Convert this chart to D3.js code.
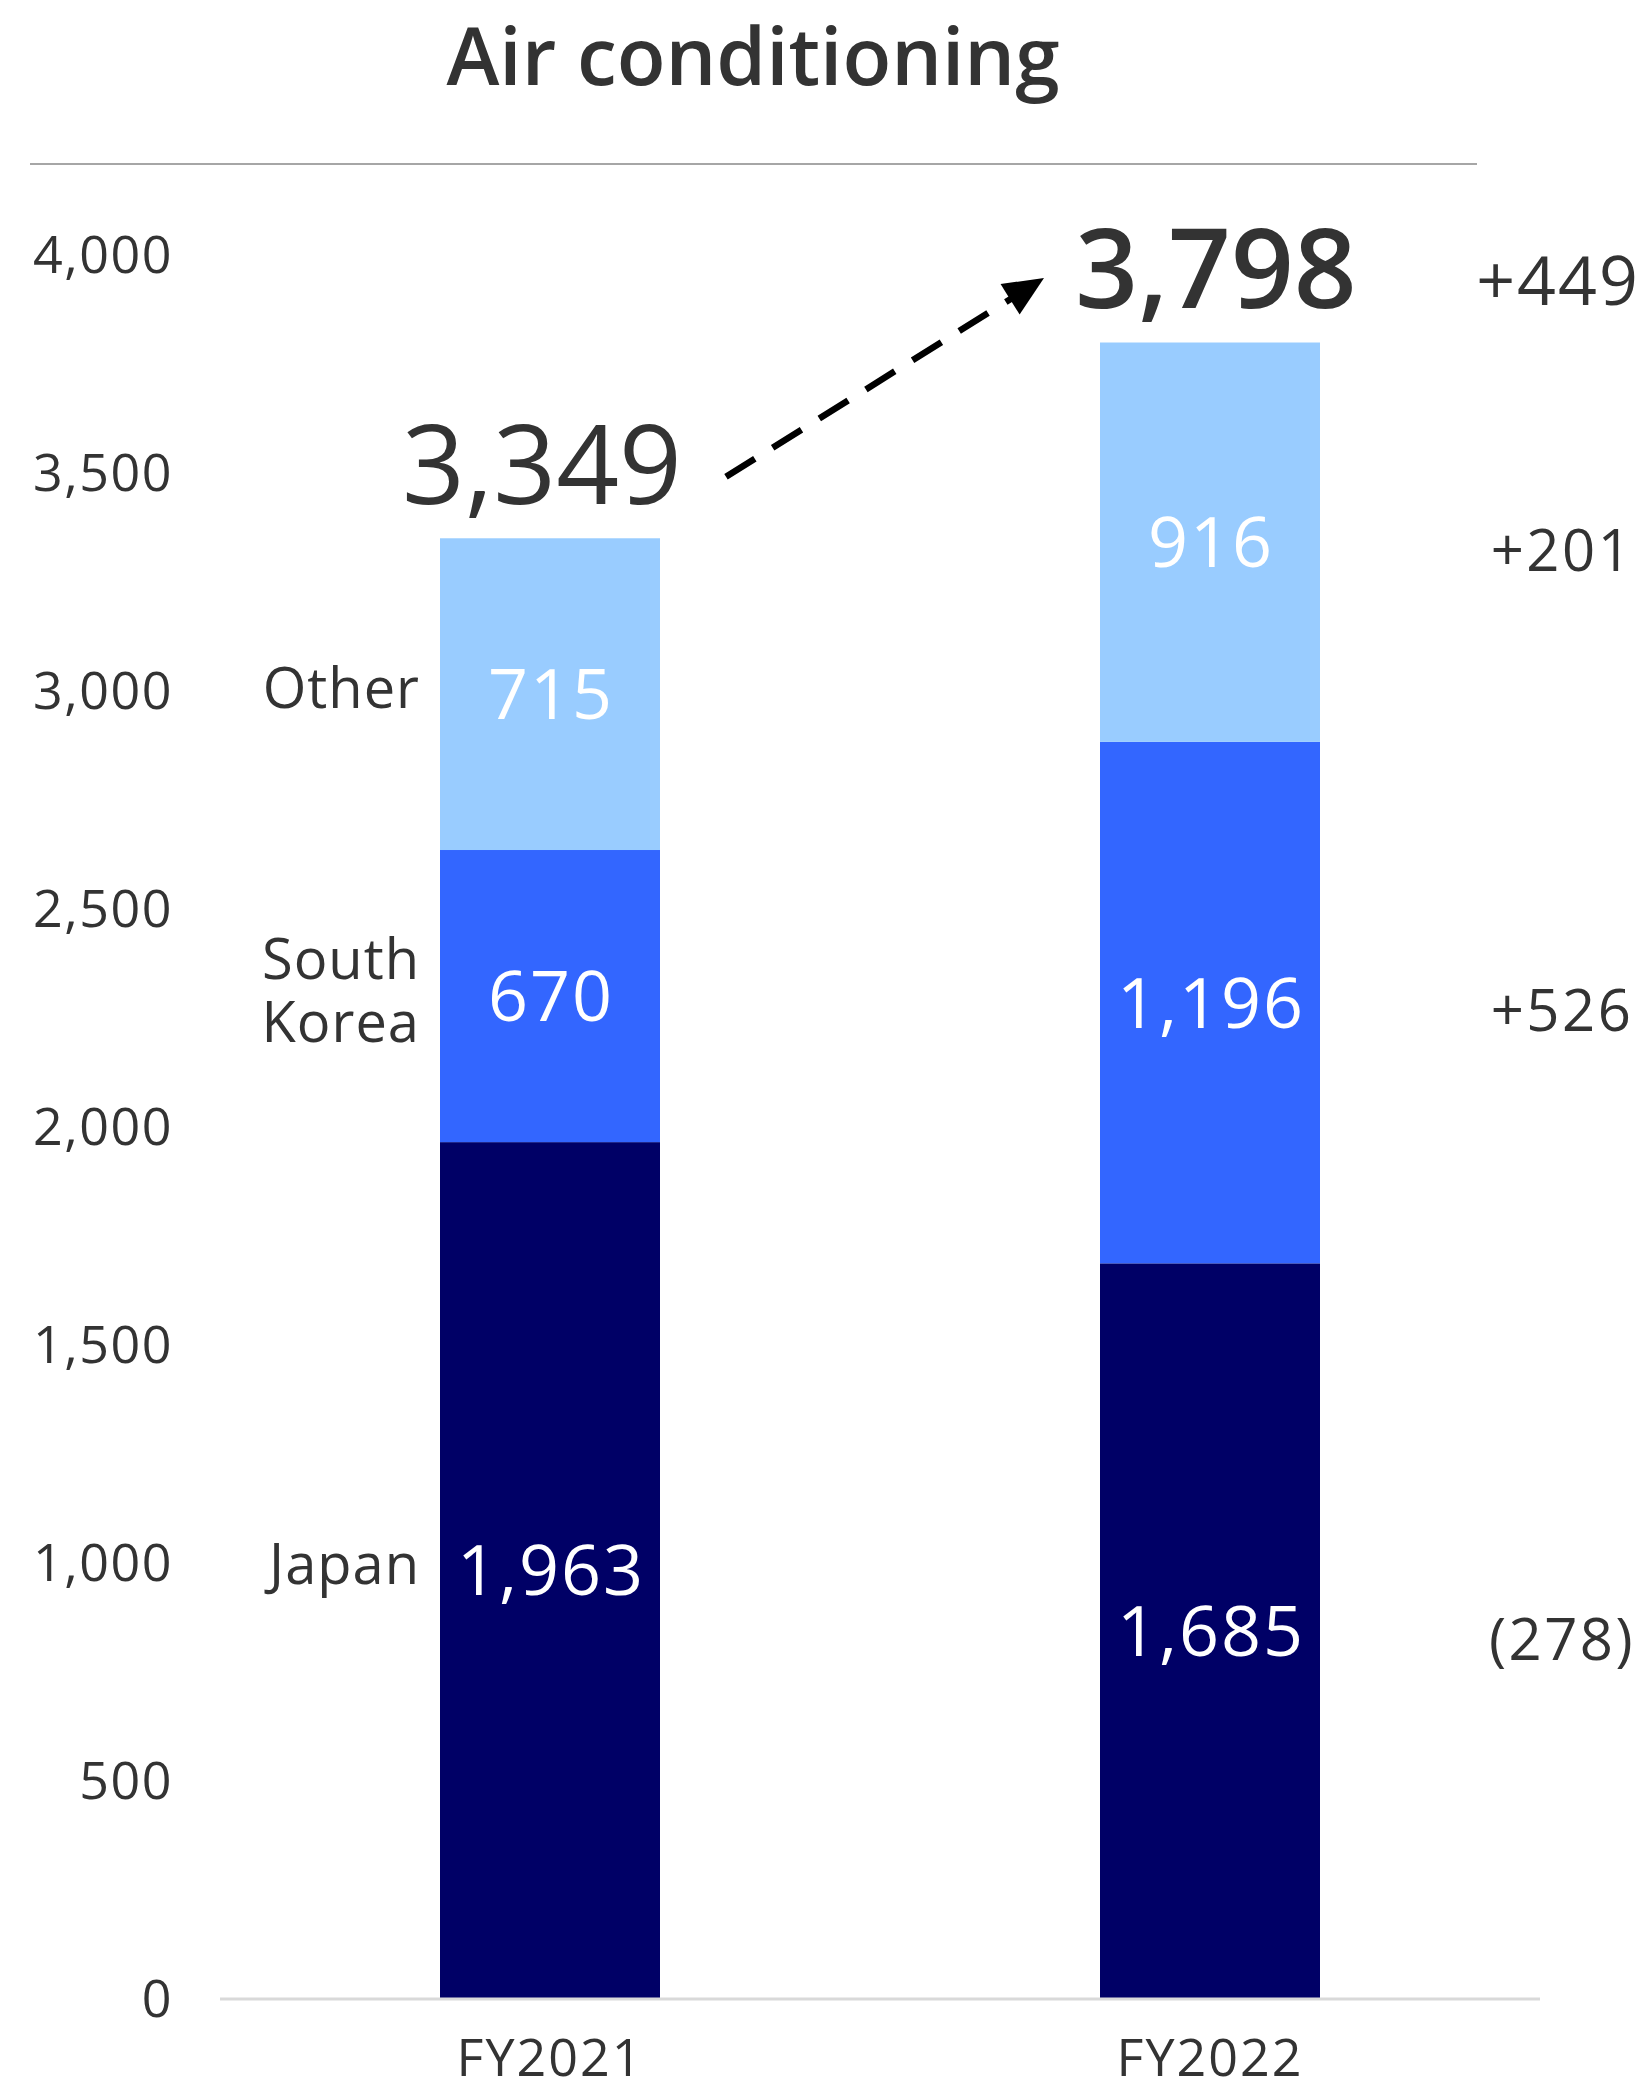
<!DOCTYPE html>
<html>
<head>
<meta charset="utf-8">
<script src="https://cdn.jsdelivr.net/npm/d3@7"></script>
<style>
    body { margin: 0; background: #fff; }
    text { font-family: "Open Sans", "Noto Sans", sans-serif; }
</style>
</head>
<body>
<div id="chart"></div>
<script>
// values
var years = ["FY2021", "FY2022"];
var regions = ["Japan", "South Korea", "Other"];
var japan = [1963, 1685];
var southKorea = [670, 1196];
var other = [715, 916];
var totals = [3349, 3798];
var regionChanges = ["(278)", "+526", "+201"];
var totalChange = "+449";
var yTicks = [0, 500, 1000, 1500, 2000, 2500, 3000, 3500, 4000];

var colors = { "Japan": "#000066", "South Korea": "#3366ff", "Other": "#99ccff" };
var textColor = "#333333";

var width = 1650, height = 2089;

var svg = d3.select("#chart")
    .append("svg")
    .attr("width", width)
    .attr("height", height);

// title + rule
svg.append("text")
    .attr("x", 753)
    .attr("y", 85)
    .attr("text-anchor", "middle")
    .attr("font-size", "80px")
    .attr("font-weight", 600)
    .attr("fill", textColor)
    .text("Air conditioning");

svg.append("line")
    .attr("x1", 30).attr("x2", 1477)
    .attr("y1", 164).attr("y2", 164)
    .attr("stroke", "#a6a6a6")
    .attr("stroke-width", 2);

var x = d3.scaleBand()
    .domain(years)
    .range([220, 1540])
    .paddingInner(2 / 3)
    .paddingOuter(1 / 3);

var y = d3.scaleLinear()
    .domain([0, 4000])
    .range([1998, 254]);

// build rows for the stack
var rows = years.map(function (yr, i) {
    return { year: yr, "Japan": japan[i], "South Korea": southKorea[i], "Other": other[i] };
});
var series = d3.stack().keys(regions)(rows);

// y axis (labels only)
var yAxis = svg.append("g")
    .attr("transform", "translate(182,0)")
    .call(d3.axisLeft(y).tickValues(yTicks).tickSize(0).tickPadding(9).tickFormat(d3.format(",")));
yAxis.select(".domain").remove();
yAxis.selectAll("text")
    .attr("font-size", "52px")
    .attr("letter-spacing", "1.5px")
    .attr("font-family", "'Open Sans', 'Noto Sans', sans-serif")
    .attr("fill", textColor)
    .attr("dy", "0.36em");

// bars
var layer = svg.append("g").selectAll("g")
    .data(series)
    .enter().append("g")
    .attr("fill", function (d) { return colors[d.key]; });

layer.selectAll("rect")
    .data(function (d) { return d; })
    .enter().append("rect")
    .attr("x", function (d) { return x(d.data.year); })
    .attr("width", x.bandwidth())
    .attr("y", function (d) { return y(d[1]); })
    .attr("height", function (d) { return y(d[0]) - y(d[1]); });

// segment values
var fmt = d3.format(",");
series.forEach(function (s) {
    svg.append("g").selectAll("text")
        .data(s)
        .enter().append("text")
        .attr("x", function (d) { return x(d.data.year) + x.bandwidth() / 2 + 1; })
        .attr("y", function (d) { return (y(d[0]) + y(d[1])) / 2; })
        .attr("dy", "0.36em")
        .attr("text-anchor", "middle")
        .attr("font-size", "70px")
        .attr("letter-spacing", "2px")
        .attr("fill", "#ffffff")
        .text(function (d) { return fmt(d.data[s.key]); });
});

// baseline
svg.append("line")
    .attr("x1", x.range()[0]).attr("x2", x.range()[1])
    .attr("y1", y(0) + 1).attr("y2", y(0) + 1)
    .attr("stroke", "#d9d9d9")
    .attr("stroke-width", 3);

// x axis
var xAxis = svg.append("g")
    .attr("transform", "translate(0," + y(0) + ")")
    .call(d3.axisBottom(x).tickSize(0).tickPadding(41));
xAxis.select(".domain").remove();
xAxis.selectAll("text")
    .attr("font-size", "52px")
    .attr("letter-spacing", "2px")
    .attr("font-family", "'Open Sans', 'Noto Sans', sans-serif")
    .attr("fill", textColor);

// region names left of the first bar
var labelX = x(years[0]) - 20;
var first = series.map(function (s) { return s[0]; });
var names = svg.append("g").selectAll("text")
    .data(first)
    .enter().append("text")
    .attr("x", labelX)
    .attr("text-anchor", "end")
    .attr("font-size", "56px")
    .attr("letter-spacing", "1px")
    .attr("fill", textColor)
    .attr("y", function (d, i) {
        var mid = (y(d[0]) + y(d[1])) / 2;
        var lines = regions[i].split(" ").length;
        return mid - (lines - 1) * 31.5 - 6;
    });
names.each(function (d, i) {
    var words = regions[i].split(" ");
    var t = d3.select(this);
    words.forEach(function (w, j) {
        t.append("tspan")
            .attr("x", labelX)
            .attr("dy", j === 0 ? "0.36em" : "63px")
            .text(w);
    });
});

// totals
var totalShift = [-8, 6];
svg.append("g").selectAll("text")
    .data(totals)
    .enter().append("text")
    .attr("x", function (d, i) { return x(years[i]) + x.bandwidth() / 2 + totalShift[i]; })
    .attr("y", function (d) { return y(d) - 34; })
    .attr("text-anchor", "middle")
    .attr("font-size", "110px")
    .attr("font-weight", function (d, i) { return i === 1 ? 600 : 500; })
    .attr("fill", textColor)
    .text(function (d) { return fmt(d); });

// change column on the right
var last = series.map(function (s) { return s[1]; });
svg.append("g").selectAll("text")
    .data(last)
    .enter().append("text")
    .attr("x", 1562)
    .attr("y", function (d) { return (y(d[0]) + y(d[1])) / 2 + 8; })
    .attr("dy", "0.36em")
    .attr("text-anchor", "middle")
    .attr("font-size", "58px")
    .attr("letter-spacing", "2.5px")
    .attr("fill", textColor)
    .text(function (d, i) { return regionChanges[i]; });

svg.append("text")
    .attr("x", 1558)
    .attr("y", y(totals[1]) - 37)
    .attr("text-anchor", "middle")
    .attr("font-size", "68px")
    .attr("letter-spacing", "2px")
    .attr("fill", textColor)
    .text(totalChange);

// dashed arrow between the totals
var x0 = x(years[0]) + x.bandwidth() + 66,
    y0 = y(totals[0]) - 61,
    x1 = x(years[1]) - 56,
    y1 = y(totals[1]) - 64;
var ang = Math.atan2(y1 - y0, x1 - x0);
var headLen = 40, headHalf = 18;
var bx = x1 - headLen * Math.cos(ang),
    by = y1 - headLen * Math.sin(ang);

svg.append("line")
    .attr("x1", x0).attr("y1", y0)
    .attr("x2", bx + 4 * Math.cos(ang)).attr("y2", by + 4 * Math.sin(ang))
    .attr("stroke", "#000")
    .attr("stroke-width", 6.5)
    .attr("stroke-dasharray", "34,21");

svg.append("path")
    .attr("d", "M" + x1 + "," + y1 +
        "L" + (bx - headHalf * Math.sin(ang)) + "," + (by + headHalf * Math.cos(ang)) +
        "L" + (bx + headHalf * Math.sin(ang)) + "," + (by - headHalf * Math.cos(ang)) + "Z")
    .attr("fill", "#000");
</script>
</body>
</html>
